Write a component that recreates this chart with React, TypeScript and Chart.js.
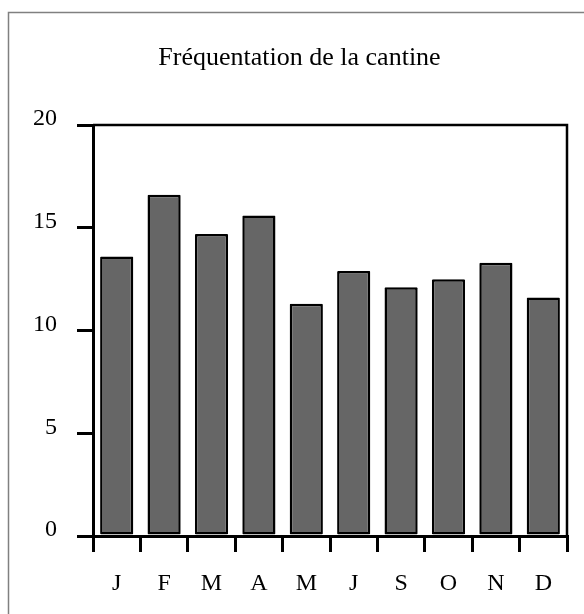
import React, { useEffect, useRef } from "react";
import { Chart, registerables } from "chart.js";

Chart.register(...registerables);

const TITLE = "Fréquentation de la cantine";
const MONTHS = ["J", "F", "M", "A", "M", "J", "S", "O", "N", "D"];
const VALUES = [13.6, 16.6, 14.7, 15.6, 11.3, 12.9, 12.1, 12.5, 13.3, 11.6];
const Y_MIN = 0;
const Y_MAX = 20;
const Y_STEP = 5;

const FONT = "'Liberation Serif', 'Times New Roman', serif";

const framePlugin = {
  id: "framePlugin",
  beforeDraw(chart: any) {
    const ctx = chart.ctx;
    ctx.save();
    ctx.strokeStyle = "#808080";
    ctx.lineWidth = 1.5;
    ctx.beginPath();
    ctx.moveTo(8.5, chart.height);
    ctx.lineTo(8.5, 12.5);
    ctx.lineTo(chart.width, 12.5);
    ctx.stroke();
    ctx.restore();
  },
  afterDraw(chart: any) {
    const { ctx, chartArea } = chart;
    ctx.save();
    ctx.strokeStyle = "#000";
    ctx.lineWidth = 2.5;
    ctx.beginPath();
    ctx.moveTo(chartArea.left, chartArea.top);
    ctx.lineTo(chartArea.right, chartArea.top);
    ctx.lineTo(chartArea.right, chartArea.bottom);
    ctx.stroke();
    ctx.restore();
  },
};

export default function App() {
  const ref = useRef<HTMLCanvasElement | null>(null);
  useEffect(() => {
    if (!ref.current) return;
    const chart = new Chart(ref.current, {
      type: "bar",
      data: {
        labels: MONTHS,
        datasets: [
          {
            data: VALUES,
            backgroundColor: "#666666",
            borderColor: "#000000",
            borderWidth: 2.5,
            borderSkipped: false,
            borderRadius: 1,
            barPercentage: 0.7,
            categoryPercentage: 1,
          },
        ],
      },
      options: {
        animation: false,
        responsive: false,
        maintainAspectRatio: false,
        layout: { padding: { left: 32, right: 17, top: 0, bottom: 0 } },
        plugins: {
          legend: { display: false },
          tooltip: { enabled: false },
          title: {
            display: true,
            text: TITLE,
            color: "#000",
            font: { family: FONT, size: 26, weight: "normal", lineHeight: 1.2 },
            padding: { top: 43, bottom: 50.8 },
          },
        },
        scales: {
          x: {
            afterFit: (s: any) => {
              s.height = 78;
            },
            grid: {
              display: true,
              offset: true,
              drawOnChartArea: false,
              drawTicks: true,
              tickLength: 16,
              color: "#000",
              lineWidth: 3,
            },
            border: { display: true, color: "#000", width: 3 },
            ticks: {
              color: "#000",
              font: { family: FONT, size: 24 },
              padding: 17,
              maxRotation: 0,
              autoSkip: false,
            },
          },
          y: {
            min: Y_MIN,
            max: Y_MAX,
            afterFit: (s: any) => {
              s.width = 61;
            },
            grid: {
              display: true,
              drawOnChartArea: false,
              drawTicks: true,
              tickLength: 16,
              color: "#000",
              lineWidth: 3,
            },
            border: { display: true, color: "#000", width: 3 },
            ticks: {
              stepSize: Y_STEP,
              color: "#000",
              font: { family: FONT, size: 24 },
              padding: 20,
              labelOffset: -6,
            },
          },
        },
      },
      plugins: [framePlugin],
    });
    return () => chart.destroy();
  }, []);

  return (
    <div style={{ position: "fixed", left: 0, top: 0, width: 584, height: 614, background: "#fff" }}>
      <canvas ref={ref} width={584} height={614} style={{ display: "block" }} />
    </div>
  );
}
